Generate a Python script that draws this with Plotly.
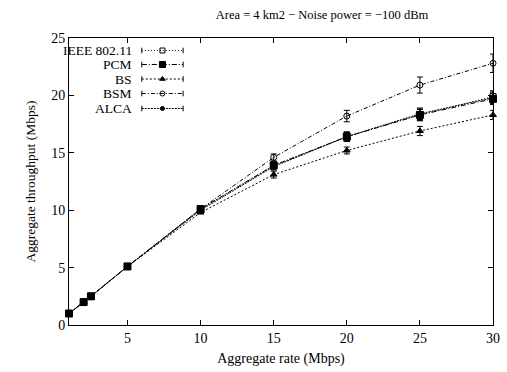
import plotly.graph_objects as go

rate = [1, 2, 2.5, 5, 10, 15, 20, 25, 30]
ieee = [1.0, 2.0, 2.5, 5.1, 10.1, 13.9, 16.4, 18.3, 19.9]
pcm = [1.0, 2.0, 2.5, 5.1, 10.1, 13.9, 16.4, 18.3, 19.7]
bs = [1.0, 2.0, 2.5, 5.1, 9.8, 13.1, 15.2, 16.9, 18.3]
bsm = [1.0, 2.0, 2.5, 5.1, 10.1, 14.6, 18.2, 20.9, 22.8]
alca = [1.0, 2.0, 2.5, 5.1, 10.0, 13.8, 16.4, 18.4, 19.8]

ieee_err = [0, 0, 0, 0, 0.1, 0.3, 0.4, 0.5, 0.5]
pcm_err = [0, 0, 0, 0, 0.1, 0.3, 0.4, 0.5, 0.5]
bs_err = [0, 0, 0, 0, 0.1, 0.3, 0.3, 0.4, 0.4]
bsm_err = [0, 0, 0, 0, 0.1, 0.3, 0.5, 0.7, 0.8]
alca_err = [0, 0, 0, 0, 0.1, 0.3, 0.4, 0.5, 0.5]

names = ["IEEE 802.11", "PCM", "BS", "BSM", "ALCA"]
series = [ieee, pcm, bs, bsm, alca]
errors = [ieee_err, pcm_err, bs_err, bsm_err, alca_err]
symbols = ["square-open", "square", "triangle-up", "circle-open", "circle"]
msizes = [6, 7, 6, 6, 5]
lsizes = [5, 6, 5, 5, 4]
dashes = ["1px,2px", "5px,2px,1px,2px", "2px,2px", "4px,2px,1px,2px", "2px,1px"]

FONT = "Liberation Serif"
fig = go.Figure()

for n, s, e, sym, ms, d in zip(names, series, errors, symbols, msizes, dashes):
    fig.add_trace(go.Scatter(
        x=rate, y=s, name=n, mode="lines+markers",
        line=dict(color="black", width=1, dash=d),
        marker=dict(symbol=sym, size=ms, color="black", line=dict(color="black", width=1)),
        error_y=dict(type="data", array=e, visible=True, color="black", thickness=1, width=3),
        cliponaxis=False, showlegend=False,
    ))

# custom legend (text to the left of line sample), on an overlay axis in plot-fraction units
W, H = 507, 372
L, R, T, B = 69, 7, 38, 47
pw, ph = W - L - R, H - T - B
def fx(px):
    return (px - L) / pw
def fy(py):
    return (H - B - py) / ph

rows = [50.5, 64.5, 79, 93.5, 108.5]
for n, sym, ms, d, yy in zip(names, symbols, lsizes, dashes, rows):
    fig.add_trace(go.Scatter(
        x=[fx(143), fx(185)], y=[fy(yy), fy(yy)], mode="lines",
        line=dict(color="black", width=1, dash=d), xaxis="x2", yaxis="y2",
        showlegend=False, hoverinfo="skip"))
    fig.add_trace(go.Scatter(
        x=[fx(143), fx(185)], y=[fy(yy), fy(yy)], mode="markers",
        marker=dict(symbol="line-ns", size=4, line=dict(color="black", width=1)),
        xaxis="x2", yaxis="y2", showlegend=False, hoverinfo="skip"))
    fig.add_trace(go.Scatter(
        x=[fx(164)], y=[fy(yy)], mode="markers",
        marker=dict(symbol=sym, size=ms, color="black", line=dict(color="black", width=1)),
        xaxis="x2", yaxis="y2", showlegend=False, hoverinfo="skip"))
    fig.add_annotation(x=fx(135), y=fy(yy), xref="x2", yref="y2", text=n,
                       showarrow=False, xanchor="right", yanchor="middle",
                       font=dict(family=FONT, size=13.5, color="black"))

axis_common = dict(showgrid=False, zeroline=False, showline=True, linecolor="black",
                   linewidth=1, mirror="ticks", ticks="inside", ticklen=5,
                   tickcolor="black", tickfont=dict(family=FONT, size=14, color="black"))

fig.update_layout(
    width=W, height=H,
    margin=dict(l=L, r=R, t=T, b=B),
    paper_bgcolor="white", plot_bgcolor="white",
    font=dict(family=FONT, color="black"),
    title=dict(text="Area = 4 km2 \u2212 Noise power = \u2212100 dBm",
               x=322 / W, xanchor="center", y=1 - 15 / H, yanchor="middle",
               font=dict(family=FONT, size=12.5, color="black")),
    xaxis=dict(range=[1, 30], tickvals=[5, 10, 15, 20, 25, 30],
               title=dict(text="Aggregate rate (Mbps)", standoff=8,
                          font=dict(family=FONT, size=14)), **axis_common),
    yaxis=dict(range=[0, 25], tickvals=[0, 5, 10, 15, 20, 25],
               title=dict(text="Aggregate throughput (Mbps)", standoff=12,
                          font=dict(family=FONT, size=13.5)), **axis_common),
    xaxis2=dict(range=[0, 1], overlaying="x", visible=False, fixedrange=True),
    yaxis2=dict(range=[0, 1], overlaying="y", visible=False, fixedrange=True),
)

fig.write_html("out.html")
